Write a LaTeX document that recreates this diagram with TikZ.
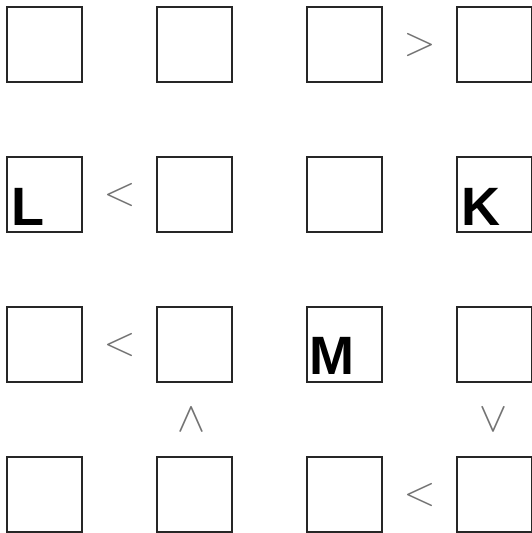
\RequirePackage{fix-cm}
\documentclass[tikz,border=0pt]{standalone}
\usepackage{fontspec}
\newfontfamily\letterfont{Liberation Sans}
\begin{document}
\begin{tikzpicture}[x=1pt, y=-1pt,
  cell/.style={draw=black!85, line width=1.6pt, minimum size=75pt, inner sep=0pt},
  letter/.style={inner sep=0pt, anchor=base west, font=\letterfont\bfseries\fontsize{54}{54}\selectfont},
  sign/.style={inner sep=0pt, text=black!55, font=\fontsize{42}{42}\selectfont}]
\useasboundingbox (0,0) rectangle (532,533);
% row 1
\node [cell] (c11) at (44.5,44.5) {};
\node [cell] (c12) at (194.5,44.5) {};
\node [cell] (c13) at (344.5,44.5) {};
\node [cell] (c14) at (494.5,44.5) {};
% row 2
\node [cell] (c21) at (44.5,194.5) {};
\node [cell] (c22) at (194.5,194.5) {};
\node [cell] (c23) at (344.5,194.5) {};
\node [cell] (c24) at (494.5,194.5) {};
% row 3
\node [cell] (c31) at (44.5,344.5) {};
\node [cell] (c32) at (194.5,344.5) {};
\node [cell] (c33) at (344.5,344.5) {};
\node [cell] (c34) at (494.5,344.5) {};
% row 4
\node [cell] (c41) at (44.5,494.5) {};
\node [cell] (c42) at (194.5,494.5) {};
\node [cell] (c43) at (344.5,494.5) {};
\node [cell] (c44) at (494.5,494.5) {};
% given letters
\node [letter] (L) at (11,225) {L};
\node [letter] (K) at (461,225) {K};
\node [letter] (M) at (309,374) {M};
% inequalities
\node [sign] (gt1314) at (419.5,44.5) {$>$};
\node [sign] (lt2122) at (119.5,194.5) {$<$};
\node [sign] (lt3132) at (119.5,344.5) {$<$};
\node [sign] (lt4344) at (419.5,494.5) {$<$};
\node [sign] (wg3242) at (191.5,419.5) {$\wedge$};
\node [sign] (vl3444) at (493.5,419.5) {$\vee$};
\end{tikzpicture}
\end{document}
